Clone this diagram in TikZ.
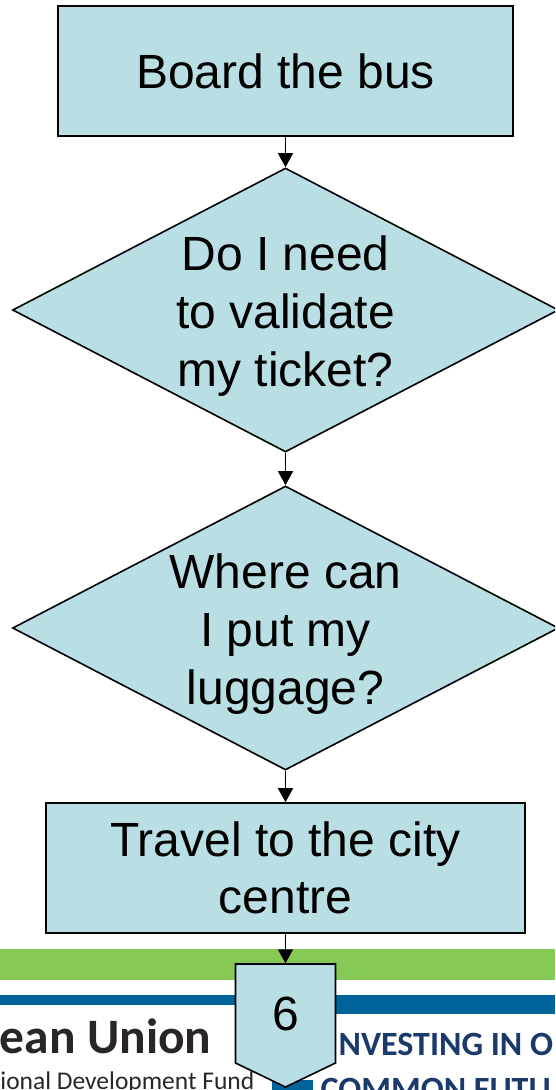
\documentclass[tikz,border=0pt]{standalone}
\usepackage{fontspec}
\setmainfont{Liberation Sans}
\newfontfamily\eufont{Carlito}
\usetikzlibrary{shapes.geometric,arrows.meta}
\definecolor{stepcyan}{HTML}{B9DFE4}
\definecolor{bargreen}{HTML}{86C954}
\definecolor{barblue}{HTML}{00649B}
\definecolor{eugray}{HTML}{2A2627}
\definecolor{eunavy}{HTML}{1B3A6A}
\newcommand{\toplift}{\rule{0pt}{47pt}}
\begin{document}
\begin{tikzpicture}[x=1pt,y=-1pt,->,>={Triangle[length=14pt,width=15pt]},line width=1.4pt]
  \tikzstyle{stage}=[draw,fill=stepcyan,line width=1.6pt,minimum height=130pt,align=center,inner sep=0pt,font=\fontsize{48}{57.6}\selectfont]
  \tikzstyle{query}=[stage,shape=diamond,aspect=1.92,inner ysep=-12pt,minimum width=546pt,minimum height=284pt]
  \useasboundingbox (0,0) rectangle (555,1090);
  \clip (0,0) rectangle (555,1090);
  \fill[bargreen] (0,949) rectangle (555,980);
  \fill[barblue] (0,995) rectangle (555,1005);
  \fill[barblue] (300,995) rectangle (555,1014);
  \fill[barblue] (272,1080) rectangle (313,1090);
  \node[anchor=base east,text=eugray,font=\eufont\bfseries\fontsize{49.5}{52}\selectfont,inner sep=0pt] (eu) at (212,1053) {ean Union};
  \node[anchor=base east,text=eugray,font=\eufont\fontsize{25.5}{28}\selectfont,inner sep=0pt] (fund) at (255,1089) {ional Development Fund};
  \node[anchor=base west,text=eunavy,font=\eufont\bfseries\fontsize{34}{38}\selectfont,inner sep=0pt] (invest) at (338,1055) {NVESTING IN O};
  \node[anchor=base west,text=eunavy,font=\eufont\bfseries\fontsize{34}{38}\selectfont,inner sep=0pt] (future) at (320,1100) {COMMON FUTU};
  \node[stage,minimum width=455pt] (board) at (285.5,71) {Board the bus};
  \node[query] (validate) at (285.5,310) {\toplift Do I need\\to validate\\my ticket?};
  \node[query] (luggage) at (285.5,628) {\toplift Where can\\I put my\\luggage?};
  \node[stage,minimum width=479pt] (travel) at (285.5,868) {Travel to the city\\centre};
  \filldraw[fill=stepcyan,line width=1.6pt] (235.5,964) -- (335.5,964) -- (335.5,1063) -- (285.5,1087) -- (235.5,1063) -- cycle;
  \node[minimum width=100pt,minimum height=99pt,inner sep=0pt,font=\fontsize{48}{57.6}\selectfont] (six) at (285.5,1013.5) {6};
  \draw (board) -- (validate);
  \draw (validate) -- (luggage);
  \draw (luggage) -- (travel);
  \draw (travel) -- (six);
\end{tikzpicture}
\end{document}
